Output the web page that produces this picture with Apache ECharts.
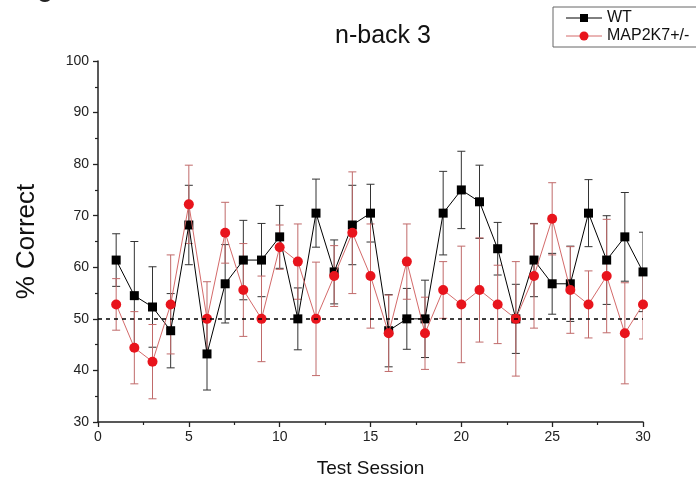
<!DOCTYPE html>
<html>
<head>
<meta charset="utf-8">
<script src="https://cdn.jsdelivr.net/npm/echarts@6/dist/echarts.min.js"></script>
<style>
html,body{margin:0;padding:0;background:#fff;}
#chart{width:696px;height:483px;}
</style>
</head>
<body>
<div id="chart"></div>
<script>
// ---- data ----
const sessions = [1,2,3,4,5,6,7,8,9,10,11,12,13,14,15,16,17,18,19,20,21,22,23,24,25,26,27,28,29,30];
const wtMean  = [61.4,54.5,52.3,47.7,68.2,43.2,56.8,61.4,61.4,65.9,50.0,70.5,59.1,68.2,70.5,47.7,50.0,50.0,70.5,75.0,72.7,63.6,50.0,61.4,56.8,56.8,70.5,61.4,65.9,59.1];
const wtErr   = [5.1,10.5,7.8,7.2,7.7,7.0,7.6,7.7,7.1,6.1,6.0,6.6,6.2,7.7,5.6,7.0,5.9,7.5,8.1,7.5,7.1,5.1,6.7,7.1,5.9,7.3,6.5,8.6,8.6,7.7];
const mapMean = [52.8,44.4,41.7,52.8,72.2,50.0,66.7,55.6,50.0,63.9,61.1,50.0,58.3,66.7,58.3,47.2,61.1,47.2,55.6,52.8,55.6,52.8,50.0,58.3,69.4,55.6,52.8,58.3,47.2,52.8];
const mapErr  = [5.0,7.0,7.2,9.6,7.6,7.2,5.9,9.0,8.3,4.3,7.3,11.0,5.9,11.8,10.1,7.4,7.3,7.0,5.5,11.3,10.1,7.6,11.1,10.1,7.0,8.4,6.5,11.0,9.8,6.7];
const chanceLevel = 50;
const seriesNames = ['WT', 'MAP2K7+/-'];
const xTicks = {min: 0, max: 30, interval: 5};
const yTicks = {min: 30, max: 100, interval: 10};

const BLACK = '#000000';
const BLACK_BAR = '#333333';
const RED = '#e8141c';
const RED_LINE = '#d46a6a';
const RED_BAR = '#c06a6a';
const FONT = 'Liberation Sans, Arial, sans-serif';

function errData(mean, err) {
  return sessions.map((s, i) => [s, mean[i] - err[i], mean[i] + err[i]]);
}
function errSeries(mean, err, color) {
  return {
    type: 'custom',
    clip: true,
    silent: true,
    z: 1,
    data: errData(mean, err),
    encode: {x: 0, y: [1, 2]},
    renderItem: function (params, api) {
      const x = api.value(0);
      const top = api.coord([x, api.value(2)]);
      const bot = api.coord([x, api.value(1)]);
      const w = 4;
      const st = {stroke: color, lineWidth: 1};
      return {
        type: 'group',
        children: [
          {type: 'line', shape: {x1: top[0], y1: top[1], x2: bot[0], y2: bot[1]}, style: st},
          {type: 'line', shape: {x1: top[0] - w, y1: top[1], x2: top[0] + w, y2: top[1]}, style: st},
          {type: 'line', shape: {x1: bot[0] - w, y1: bot[1], x2: bot[0] + w, y2: bot[1]}, style: st}
        ]
      };
    }
  };
}

const chart = echarts.init(document.getElementById('chart'), null, {renderer: 'canvas'});
const axisCommon = {
  axisLine: {show: true, lineStyle: {color: '#222', width: 1.5}},
  axisTick: {show: true, inside: false, length: 5, lineStyle: {color: '#222', width: 1.3}},
  minorTick: {show: true, splitNumber: 2, length: 3, lineStyle: {color: '#222', width: 1.2}},
  splitLine: {show: false},
  axisLabel: {color: '#222', fontSize: 14, fontFamily: FONT}
};
chart.setOption({
  animation: false,
  backgroundColor: '#ffffff',
  title: {
    text: 'n-back 3',
    left: 378, top: 19, textAlign: 'center',
    textStyle: {fontSize: 25, fontWeight: 'normal', color: '#111', fontFamily: FONT}
  },
  grid: {left: 98, right: 53, top: 61, bottom: 60, containLabel: false},
  xAxis: Object.assign({}, axisCommon, {
    type: 'value', min: xTicks.min, max: xTicks.max, interval: xTicks.interval,
    name: 'Test Session', nameLocation: 'middle', nameGap: 37,
    nameTextStyle: {fontSize: 19, color: '#111', fontFamily: FONT},
    axisLabel: Object.assign({}, axisCommon.axisLabel, {margin: 8})
  }),
  yAxis: Object.assign({}, axisCommon, {
    type: 'value', min: yTicks.min, max: yTicks.max, interval: yTicks.interval,
    name: '% Correct', nameLocation: 'middle', nameGap: 58, nameRotate: 90,
    nameTextStyle: {fontSize: 26, color: '#111', fontFamily: FONT},
    axisLabel: Object.assign({}, axisCommon.axisLabel, {margin: 9})
  }),
  series: [
    errSeries(wtMean, wtErr, BLACK_BAR),
    {
      name: seriesNames[0], type: 'line', z: 2,
      data: sessions.map((s, i) => [s, wtMean[i]]),
      symbol: 'rect', symbolSize: 9,
      lineStyle: {color: BLACK, width: 1},
      itemStyle: {color: BLACK},
      markLine: {
        silent: true, symbol: 'none', label: {show: false},
        lineStyle: {color: '#000', type: [4, 4], width: 1.5},
        data: [{yAxis: chanceLevel}]
      }
    },
    errSeries(mapMean, mapErr, RED_BAR),
    {
      name: seriesNames[1], type: 'line', z: 3,
      data: sessions.map((s, i) => [s, mapMean[i]]),
      symbol: 'circle', symbolSize: 10,
      lineStyle: {color: RED_LINE, width: 1},
      itemStyle: {color: RED}
    }
  ],
  graphic: [
    {type: 'text', left: 12, top: -27, style: {text: 'Figure 3', fontSize: 30, fill: '#222', fontFamily: FONT}},
    {type: 'rect', shape: {x: 553, y: 7, width: 160, height: 40}, style: {fill: '#fff', stroke: '#666', lineWidth: 1}, z: 10},
    {type: 'line', shape: {x1: 566, y1: 18, x2: 602, y2: 18}, style: {stroke: BLACK, lineWidth: 1}, z: 11},
    {type: 'rect', shape: {x: 580, y: 14, width: 8, height: 8}, style: {fill: BLACK}, z: 11},
    {type: 'text', x: 607, y: 18, style: {text: seriesNames[0], fontSize: 16, fill: '#111', fontFamily: FONT, verticalAlign: 'middle'}, z: 11},
    {type: 'line', shape: {x1: 566, y1: 36, x2: 602, y2: 36}, style: {stroke: RED_LINE, lineWidth: 1}, z: 11},
    {type: 'circle', shape: {cx: 584, cy: 36, r: 4.5}, style: {fill: RED}, z: 11},
    {type: 'text', x: 607, y: 36, style: {text: seriesNames[1], fontSize: 16, fill: '#111', fontFamily: FONT, verticalAlign: 'middle'}, z: 11}
  ]
});
</script>
</body>
</html>
